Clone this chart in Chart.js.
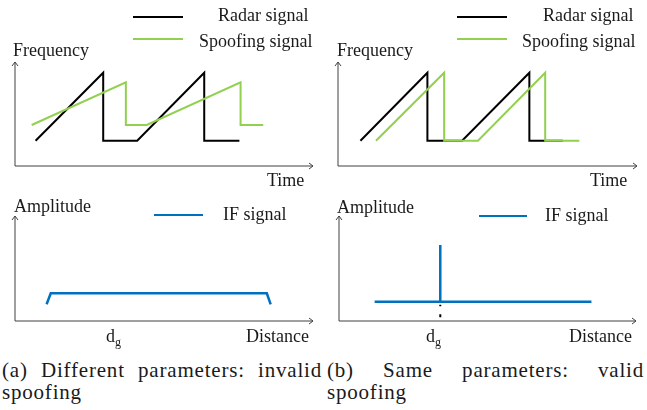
<!DOCTYPE html>
<html>
<head>
<meta charset="utf-8">
<script src="https://cdn.jsdelivr.net/npm/chart.js@4"></script>
<style>
  body { margin: 0; background: #fff; width: 647px; height: 410px; position: relative; overflow: hidden;
         font-family: "Liberation Serif", "Times New Roman", serif; color: #1a1a1a; }
  canvas { position: absolute; }
  .t { position: absolute; font-size: 18px; line-height: 18px; white-space: nowrap; }
  .sw { position: absolute; height: 2px; }
  .cap { position: absolute; font-size: 21px; line-height: 21.5px; letter-spacing: 0.8px; }
  .cap .l1 { text-align: justify; text-align-last: justify; white-space: nowrap; }
  sub { font-size: 12px; vertical-align: -4px; line-height: 0; }
</style>
</head>
<body>
<canvas id="topA" width="323" height="195" style="left:0;top:0;width:323px;height:195px"></canvas>
<canvas id="topB" width="323" height="195" style="left:324px;top:0;width:323px;height:195px"></canvas>
<canvas id="botA" width="323" height="150" style="left:0;top:195px;width:323px;height:150px"></canvas>
<canvas id="botB" width="323" height="150" style="left:324px;top:195px;width:323px;height:150px"></canvas>

<!-- legends and labels, panel (a) -->
<div class="sw" style="left:133px;top:16px;width:50px;background:#000"></div>
<div class="t" style="left:218px;top:6px">Radar signal</div>
<div class="sw" style="left:133px;top:38px;width:50px;background:#92d050"></div>
<div class="t" style="left:199px;top:32px">Spoofing signal</div>
<div class="t" style="left:13px;top:41px">Frequency</div>
<div class="t" style="left:267px;top:171px">Time</div>
<div class="t" style="left:14px;top:197px">Amplitude</div>
<div class="sw" style="left:154px;top:214px;width:49px;background:#0070c0"></div>
<div class="t" style="left:223px;top:205px">IF signal</div>
<div class="t" style="left:106px;top:327px">d<sub>g</sub></div>
<div class="t" style="left:246px;top:327px">Distance</div>

<!-- legends and labels, panel (b) -->
<div class="sw" style="left:457px;top:16px;width:50px;background:#000"></div>
<div class="t" style="left:543px;top:6px">Radar signal</div>
<div class="sw" style="left:457px;top:38px;width:50px;background:#92d050"></div>
<div class="t" style="left:522px;top:32px">Spoofing signal</div>
<div class="t" style="left:337px;top:41px">Frequency</div>
<div class="t" style="left:590px;top:171px">Time</div>
<div class="t" style="left:337px;top:198px">Amplitude</div>
<div class="sw" style="left:479px;top:215px;width:48px;background:#0070c0"></div>
<div class="t" style="left:545px;top:206px">IF signal</div>
<div class="t" style="left:426px;top:327px">d<sub>g</sub></div>
<div class="t" style="left:569px;top:327px">Distance</div>

<div class="cap" style="left:2px;top:360px;width:320px">
  <div class="l1">(a) Different parameters: invalid</div>
  <div>spoofing</div>
</div>
<div class="cap" style="left:327px;top:360px;width:317px">
  <div class="l1">(b) Same parameters: valid</div>
  <div>spoofing</div>
</div>

<script>
// (a) different parameters
const radarA_t = [6.9, 29.6, 29.6, 41.0, 63.5, 63.5, 75.3];
const radarA_f = [24.3, 89.7, 24.3, 24.3, 89.7, 24.3, 24.3];
const spoofA_t = [5.6, 37.2, 37.2, 44.2, 75.7, 75.7, 83.3];
const spoofA_f = [39.4, 80.5, 39.4, 39.4, 80.5, 39.4, 39.4];
const ifA_d = [10.6, 12.0, 84.5, 85.8];
const ifA_amp = [15.9, 26.4, 26.4, 15.9];

// (b) same parameters
const radarB_t = [7.5, 29.9, 29.9, 41.5, 64.0, 64.0, 75.2];
const radarB_f = [24.3, 89.7, 24.3, 24.3, 89.7, 24.3, 24.3];
const spoofB_t = [12.7, 35.5, 35.5, 46.8, 69.3, 69.3, 80.7];
const spoofB_f = [24.3, 89.7, 24.3, 24.3, 89.7, 24.3, 24.3];
const ifB_d = [12.0, 34.1, 34.1, 34.1, 85.0];
const ifB_amp = [18.4, 18.4, 72.4, 18.4, 18.4];
const dgB_d = [34.1, 34.1];
const dgB_amp = [3.5, 15.5];

function pts(xs, ys) {
  return xs.map((x, i) => ({ x: x, y: ys[i] }));
}

// axes with small arrow heads
const arrowAxes = {
  id: 'arrowAxes',
  afterDraw(chart) {
    const c = chart.ctx, a = chart.chartArea;
    c.save();
    c.strokeStyle = '#404040';
    c.lineWidth = 1;
    c.beginPath();
    c.moveTo(a.left, a.top);
    c.lineTo(a.left, a.bottom);
    c.lineTo(a.right, a.bottom);
    c.stroke();
    c.beginPath();
    c.moveTo(a.left - 3, a.top + 4); c.lineTo(a.left, a.top); c.lineTo(a.left + 3, a.top + 4);
    c.moveTo(a.right - 4, a.bottom - 3); c.lineTo(a.right, a.bottom);
    c.lineTo(a.right - 4, a.bottom + 3);
    c.stroke();
    c.restore();
  }
};

function line(data, color, width, order, dash) {
  return {
    data: data, borderColor: color, borderWidth: width, showLine: true,
    pointRadius: 0, tension: 0, fill: false, clip: false, order: order,
    borderDash: dash || [], borderJoinStyle: 'miter'
  };
}

function makeChart(id, datasets, pad) {
  return new Chart(document.getElementById(id), {
    type: 'scatter',
    data: { datasets: datasets },
    options: {
      responsive: false,
      animation: false,
      events: [],
      layout: { padding: pad },
      scales: {
        x: { type: 'linear', min: 0, max: 100, display: false },
        y: { type: 'linear', min: 0, max: 100, display: false }
      },
      plugins: { legend: { display: false }, tooltip: { enabled: false } }
    },
    plugins: [arrowAxes]
  });
}

makeChart('topA', [
  line(pts(radarA_t, radarA_f), '#000000', 2, 2),
  line(pts(spoofA_t, spoofA_f), '#92d050', 2, 1)
], { left: 15, right: 10, top: 62, bottom: 29 });

makeChart('topB', [
  line(pts(radarB_t, radarB_f), '#000000', 2, 2),
  line(pts(spoofB_t, spoofB_f), '#92d050', 2, 1)
], { left: 14, right: 10, top: 62, bottom: 29 });

makeChart('botA', [
  line(pts(ifA_d, ifA_amp), '#0070c0', 2.5, 1)
], { left: 15, right: 10, top: 21, bottom: 24 });

makeChart('botB', [
  line(pts(ifB_d, ifB_amp), '#0070c0', 2.5, 1),
  line(pts(dgB_d, dgB_amp), '#000000', 2, 2, [3, 8])
], { left: 15, right: 11, top: 21, bottom: 24 });
</script>
</body>
</html>
